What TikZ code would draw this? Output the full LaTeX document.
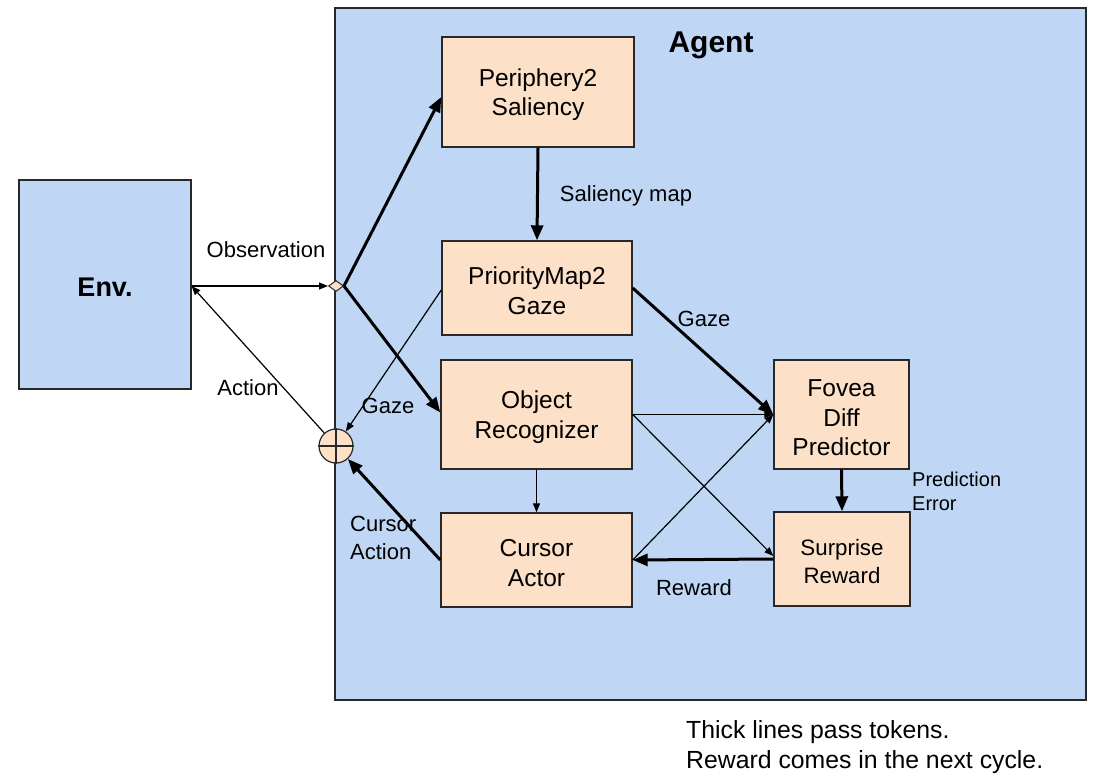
\documentclass[tikz,border=0pt]{standalone}
\usepackage{fontspec}
\setmainfont{Liberation Sans}
\usetikzlibrary{arrows.meta,shapes.geometric,calc}
\definecolor{agentblue}{RGB}{192,214,245}
\definecolor{peach}{RGB}{252,224,200}
\definecolor{edgegray}{RGB}{40,40,40}
\newcommand\liftup{\rule{0pt}{23.5pt}}
\begin{document}
\begin{tikzpicture}[x=1pt,y=-1pt,
  box/.style={draw=edgegray,line width=1.4pt,fill=peach,align=center,inner sep=0pt,
    font=\fontsize{24.5}{29.5}\selectfont},
  lbl/.style={font=\fontsize{22}{28}\selectfont,inner sep=0pt},
  thin/.style={line width=1.2pt,-{Triangle[length=9pt,width=7pt]}},
  thick/.style={line width=3pt,-{Triangle[length=15pt,width=12pt]}}]
\useasboundingbox (0,0) rectangle (1095,778);
% containers
\node[draw=edgegray,line width=1.2pt,fill=agentblue,minimum width=751pt,minimum height=692pt,inner sep=0pt] (agent) at (710.5,354) {};
\node[font=\bfseries\fontsize{30}{36}\selectfont,inner sep=0pt] (agentlbl) at (711,45) {Agent};
\node[draw=edgegray,line width=1.2pt,fill=agentblue,minimum width=172pt,minimum height=209pt,inner sep=0pt,
  font=\bfseries\fontsize{27}{32}\selectfont] (env) at (105,284.5) {\rule{0pt}{24pt}Env.};
% boxes
\node[box,minimum width=192pt,minimum height=110pt] (periph) at (538,92) {\liftup Periphery2\\Saliency};
\node[box,minimum width=190pt,minimum height=94pt] (prio) at (537,288) {\liftup PriorityMap2\\Gaze};
\node[box,minimum width=191pt,minimum height=109pt] (objrec) at (536.5,414.5) {\liftup Object\\Recognizer};
\node[box,minimum width=191pt,minimum height=94pt] (cursor) at (536.5,560) {\liftup Cursor\\Actor};
\node[box,minimum width=135pt,minimum height=109pt] (fovea) at (841.5,414.5) {\liftup Fovea\\Diff\\Predictor};
\node[box,minimum width=136pt,minimum height=94pt,font=\fontsize{22.3}{28}\selectfont] (surprise) at (842,559) {\rule{0pt}{21.5pt}Surprise\\Reward};
% junctions
\node[diamond,draw=edgegray,line width=1pt,fill=peach,minimum width=15pt,minimum height=11pt,inner sep=0pt,aspect=1.4] (dia) at (336,286) {};
\node[circle,draw=edgegray,line width=1.2pt,fill=peach,minimum size=34pt,inner sep=0pt] (circ) at (336,446) {};
\draw[edgegray,line width=1.2pt] (circ.north) -- (circ.south) (circ.west) -- (circ.east);
\coordinate (envin) at (env.east |- dia);
% connectors
\draw[thin] (envin) -- (dia.west);
\draw[thin] (circ) -- (envin);
\draw[thick] (dia.east) -- ($(periph.west)+(0,5)$);
\draw[thick] (dia.east) -- ($(objrec.west)+(0,-2)$);
\draw[thick] (periph.south) -- (prio.north);
\draw[thin] ($(prio.west)+(0,2)$) -- (circ);
\draw[thick] (prio.east) -- (fovea.west);
\draw[thin] (objrec.east) -- (fovea.west);
\draw[thin] (objrec.east) -- ($(surprise.west)+(0,-3)$);
\draw[thin] (cursor.east) -- (fovea.west);
\draw[thin] (objrec.south) -- (cursor.north);
\draw[thick] (surprise.west) -- (cursor.east);
\draw[thick] (fovea.south) -- (surprise.north);
\draw[thick] (cursor.west) -- (circ);
% labels
\node[lbl] (obs) at (266,250) {Observation};
\node[lbl] (act) at (248,388) {Action};
\node[lbl] (gazel) at (388,406) {Gaze};
\node[lbl] (salmap) at (626,196) {Saliency map};
\node[lbl] (gazer) at (704,319) {Gaze};
\node[lbl,align=left,anchor=west] (curact) at (350,538) {Cursor\\Action};
\node[lbl] (rew) at (694,588) {Reward};
\node[font=\fontsize{20}{24}\selectfont,inner sep=0pt,align=left,anchor=west] (prederr) at (912,491) {Prediction\\Error};
\node[font=\fontsize{24.8}{30}\selectfont,inner sep=0pt,align=left,anchor=west] (note) at (686,747) {Thick lines pass tokens.\\Reward comes in the next cycle.};
\end{tikzpicture}
\end{document}
